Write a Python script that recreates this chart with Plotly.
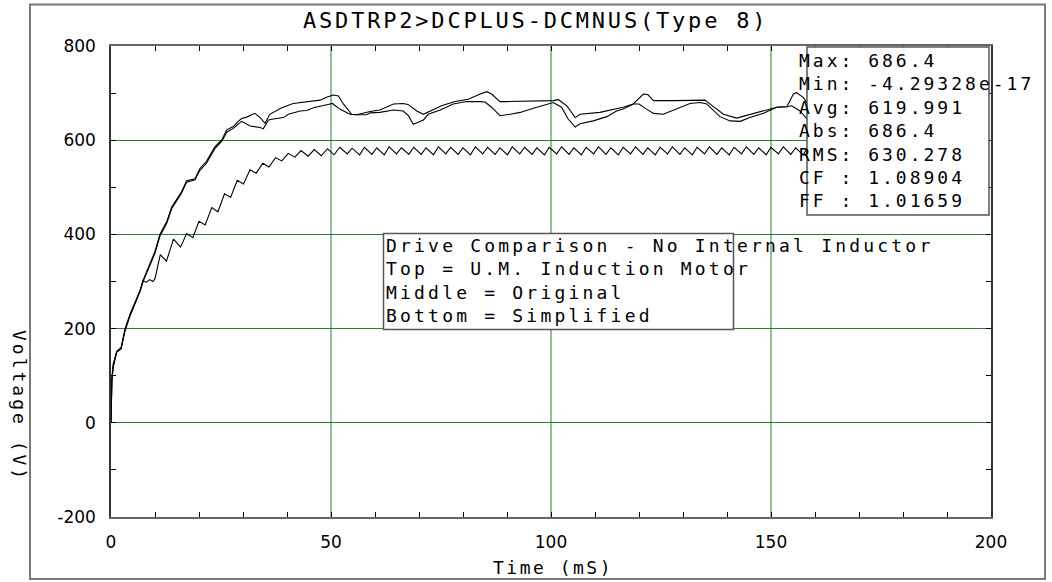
import plotly.graph_objects as go

# ---------------- data ----------------
t_top = [0, 0.2, 0.5, 1.3, 2.3, 3.2, 4.3, 5.5, 6.6, 7.3, 8.5, 10.0, 11.1, 12.7, 13.8, 16.0, 17.2, 19.1,
         20.2, 21.7, 23.6, 25.2, 26.3, 27.8, 28.9, 29.7, 30.8, 32.7, 33.9, 35.0, 36.1, 37.3, 38.8, 41.4,
         44.5, 47.5, 49.0, 50.5, 51.7, 52.8, 54.7, 55.8, 58.9, 61.1, 64.2, 66.4, 67.5, 69.5, 71.0, 72.5,
         75.1, 78.2, 81.2, 83.9, 85.4, 86.5, 88.4, 89.9, 95.0, 100.5, 101.7, 103.6, 105.5, 106.6, 111.1,
         113.4, 116.4, 118.7, 121.0, 122.0, 123.3, 128.0, 133.9, 135.0, 136.1, 139.2, 142.2, 145.2, 148.3,
         151.3, 153.6, 155.1, 155.8, 157.3, 159.0, 162.0]
v_top = [0, 95, 125, 150, 158, 200, 230, 256, 281, 303, 330, 364, 400, 428, 458, 490, 514, 518,
         540, 555, 586, 601, 622, 629, 640, 646, 649, 657, 648, 636, 655, 662, 669, 678,
         682, 685, 691, 696, 694, 677, 655, 654, 661, 664, 677, 678, 676, 662, 655, 662,
         673, 682, 687, 698, 703, 698, 682, 682, 683, 684, 686, 673, 648, 655, 659,
         664, 670, 677, 698, 697, 684, 684, 684, 685, 677, 655, 647, 655, 662,
         670, 671, 698, 701, 691, 670, 645]

t_mid = [0, 0.2, 0.5, 1.3, 2.3, 3.2, 4.3, 5.5, 6.6, 7.3, 8.5, 10.0, 11.1, 12.7, 13.8, 16.0, 17.2, 19.1,
         20.2, 21.7, 23.6, 25.2, 26.3, 27.8, 28.9, 29.7, 31.6, 33.9, 34.6, 35.8, 36.9, 39.2, 40.3, 43.0,
         44.5, 46.0, 49.8, 50.3, 52.0, 54.3, 55.8, 58.1, 58.9, 61.1, 64.2, 66.4, 67.6, 68.7, 69.8, 71.0,
         72.1, 74.8, 77.8, 80.8, 83.9, 85.0, 86.5, 88.4, 90.7, 93.0, 96.0, 99.0, 100.5, 102.4, 103.9,
         105.5, 106.6, 109.6, 112.7, 114.9, 116.4, 118.7, 120.0, 121.7, 123.3, 125.5, 128.6, 131.6, 133.9,
         135.4, 138.4, 140.7, 143.0, 145.2, 148.3, 151.3, 153.6, 154.7, 156.6, 158.1, 160.0, 162.0]
v_mid = [0, 92, 120, 152, 160, 196, 226, 252, 279, 300, 327, 360, 396, 424, 455, 487, 511, 516,
         536, 551, 582, 598, 617, 625, 634, 640, 630, 627, 624, 643, 645, 648, 655, 662,
         663, 669, 677, 678, 666, 655, 654, 654, 658, 659, 664, 662, 652, 634, 638, 643,
         655, 664, 677, 682, 682, 681, 670, 652, 655, 659, 668, 675, 680, 670, 645,
         628, 635, 641, 650, 662, 666, 677, 677, 666, 657, 655, 666, 678, 680,
         677, 650, 641, 640, 648, 657, 670, 671, 673, 662, 645, 625, 610]

t_bot = [0, 0.2, 0.5, 1.3, 2.3, 3.2, 4.3, 5.5, 6.6, 7.3, 8.0, 8.8, 9.5, 10.0,
         11.2, 12.6, 14.2, 15.8, 17.2, 18.6, 20.0, 21.4, 22.9, 24.3, 25.8, 27.2, 28.7, 30.1,
         31.6, 33.0, 34.5, 35.9, 37.4, 38.8, 40.3, 41.8, 43.2, 44.8, 46.2, 47.8, 49.2, 50.7,
         52.0, 53.7, 54.8, 56.5, 57.6, 59.3, 60.4, 62.1, 63.2, 64.9, 66.0, 67.7, 68.8, 70.5,
         71.6, 73.3, 74.4, 76.1, 77.2, 78.9, 80.0, 81.7, 82.8, 84.5, 85.6, 87.3, 88.4, 90.1,
         91.2, 92.9, 94.0, 95.7, 96.8, 98.5, 99.6, 101.3, 102.4, 104.1, 105.2, 106.9, 108.0, 109.7,
         110.8, 112.5, 113.6, 115.3, 116.4, 118.1, 119.2, 120.9, 122.0, 123.7, 124.8, 126.5,
         127.6, 129.3, 130.4, 132.1, 133.2, 134.9, 136.0, 137.7, 138.8, 140.5, 141.6, 143.3,
         144.4, 146.1, 147.2, 148.9, 150.0, 151.7, 152.8, 154.5, 155.6, 157.3, 158.4, 160.1]
v_bot = [0, 90, 118, 150, 157, 198, 228, 254, 280, 302, 298, 304, 300, 306,
         357, 343, 390, 373, 402, 393, 428, 420, 457, 448, 486, 479, 515, 507,
         537, 530, 551, 543, 563, 556, 572, 564, 578, 566, 580, 567, 582, 569,
         585, 571, 583, 569, 585, 570, 584, 569, 586, 571, 584, 570, 585, 570,
         584, 569, 586, 571, 585, 570, 584, 569, 586, 571, 585, 570, 584, 569,
         586, 571, 585, 570, 584, 569, 585, 571, 586, 570, 584, 569, 585, 571,
         586, 570, 584, 569, 585, 571, 586, 570, 584, 569, 585, 571,
         586, 570, 584, 569, 585, 571, 586, 570, 584, 569, 585, 571,
         586, 570, 584, 569, 585, 571, 586, 570, 584, 569, 585, 571]

x_major = [0, 50, 100, 150, 200]
x_labels = ["0", "50", "100", "150", "200"]
x_minor = [10, 20, 30, 40, 60, 70, 80, 90, 110, 120, 130, 140, 160, 170, 180, 190]
x_grid = [50, 100, 150]
y_major = [-200, 0, 200, 400, 600, 800]
y_labels = ["-200", "0", "200", "400", "600", "800"]
y_minor = [-100, 100, 300, 500, 700]

title_text = "ASDTRP2&gt;DCPLUS-DCMNUS(Type 8)"
stats_lines = ["Max: 686.4", "Min: -4.29328e-17", "Avg: 619.991", "Abs: 686.4",
               "RMS: 630.278", "CF : 1.08904", "FF : 1.01659"]
note_lines = ["Drive Comparison - No Internal Inductor", "Top = U.M. Induction Motor",
              "Middle = Original", "Bottom = Simplified"]

# ---------------- layout helpers ----------------
W, H = 1052, 582
L, R, T, B = 111, 61, 46, 65
PW, PH = W - L - R, H - T - B


def px_x(x):
    return (x - L) / PW


def px_y(y):
    return (H - B - y) / PH


MONO = "DejaVu Sans Mono"
SANS = "DejaVu Sans"
GRID = "#2e7a2e"


def spaced(text, ls):
    return f"<span style='letter-spacing:{ls}px'>{text}</span>"


fig = go.Figure()
for tt, vv in [(t_top, v_top), (t_mid, v_mid), (t_bot, v_bot)]:
    fig.add_trace(go.Scatter(x=tt, y=vv, mode="lines", line=dict(color="#000000", width=1.1),
                             hoverinfo="skip", showlegend=False))

tickfont = dict(family=SANS, size=17, color="#000")

fig.update_layout(
    template="none",
    width=W, height=H,
    margin=dict(l=L, r=R, t=T, b=B, pad=0),
    paper_bgcolor="white", plot_bgcolor="white",
    showlegend=False,
    xaxis=dict(range=[0, 200], tickmode="array", tickvals=x_major, ticktext=x_labels,
               ticks="inside", ticklen=5, tickwidth=1, tickcolor="#000",
               showgrid=False, zeroline=False,
               showline=True, linecolor="#666", linewidth=2, mirror="ticks",
               tickfont=tickfont, ticklabelstandoff=9,
               minor=dict(tickmode="array", tickvals=x_minor, ticks="inside", ticklen=5,
                          tickwidth=1, tickcolor="#000", showgrid=False)),
    yaxis=dict(range=[-200, 800], tickmode="array", tickvals=y_major, ticktext=y_labels,
               ticks="inside", ticklen=5, tickwidth=1, tickcolor="#000",
               showgrid=True, gridcolor=GRID, gridwidth=1, zeroline=False,
               showline=True, linecolor="#333", linewidth=1.5, mirror="ticks",
               tickfont=tickfont, ticklabelstandoff=10,
               minor=dict(tickmode="array", tickvals=y_minor, ticks="inside", ticklen=5,
                          tickwidth=1, tickcolor="#000", showgrid=False)),
)

shapes = [
    # outer frame
    dict(type="rect", xref="paper", yref="paper", x0=px_x(30), x1=px_x(1045),
         y0=px_y(579), y1=px_y(4.5), line=dict(color="#7a7a7a", width=2), layer="below"),
]
# vertical grid lines at the 50 ms marks (on the x scale)
for gx in x_grid:
    shapes.append(dict(type="line", xref="x", yref="paper", x0=gx, x1=gx, y0=0, y1=1,
                       line=dict(color=GRID, width=1), layer="below"))
shapes += [
    # stats box
    dict(type="rect", xref="paper", yref="paper", x0=px_x(807), x1=px_x(989),
         y0=px_y(215), y1=px_y(47), fillcolor="white", line=dict(color="#555", width=1.5),
         layer="above"),
    # note box
    dict(type="rect", xref="paper", yref="paper", x0=px_x(383.5), x1=px_x(733.5),
         y0=px_y(329.5), y1=px_y(233.5), fillcolor="white", line=dict(color="#555", width=1.5),
         layer="above"),
]
fig.update_layout(shapes=shapes)

annotations = [
    dict(text=spaced(title_text, 2.8), x=px_x(535), y=px_y(20), xref="paper", yref="paper",
         xanchor="center", yanchor="middle", showarrow=False,
         font=dict(family=MONO, size=22, color="#000")),
    dict(text="<br>".join(spaced(s, 3.0) for s in stats_lines), x=px_x(797), y=px_y(130),
         xref="paper", yref="paper", xanchor="left", yanchor="middle", align="left",
         showarrow=False, font=dict(family=MONO, size=18, color="#000")),
    dict(text="<br>".join(spaced(s, 3.2) for s in note_lines), x=px_x(384), y=px_y(280),
         xref="paper", yref="paper", xanchor="left", yanchor="middle", align="left",
         showarrow=False, font=dict(family=MONO, size=18, color="#000")),
    dict(text=spaced("Time (mS)", 2.5), x=px_x(553), y=px_y(567), xref="paper", yref="paper",
         xanchor="center", yanchor="middle", showarrow=False,
         font=dict(family=MONO, size=18, color="#000")),
    dict(text=spaced("Voltage (V)", 3.0), x=px_x(20), y=px_y(406), xref="paper", yref="paper",
         xanchor="center", yanchor="middle", showarrow=False, textangle=90,
         font=dict(family=MONO, size=18, color="#000")),
]
fig.update_layout(annotations=annotations)

fig.write_html("out.html")
